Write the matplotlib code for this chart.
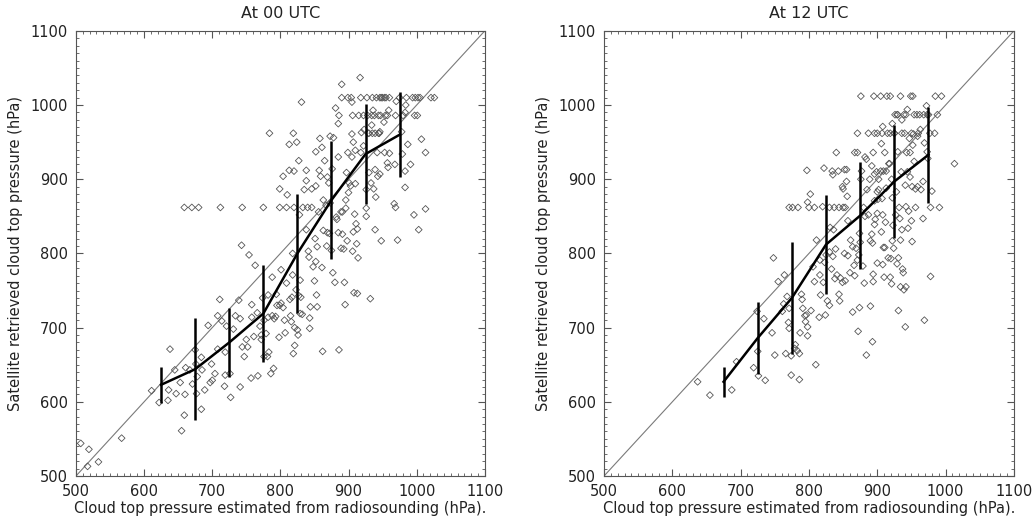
import matplotlib
matplotlib.use("Agg")
import matplotlib.pyplot as plt
from matplotlib.ticker import MultipleLocator
import numpy as np

# ---------------- Data: At 00 UTC ----------------
x00 = [507, 519, 517, 533, 567, 611, 622, 635, 636, 638, 645, 647, 653, 655, 659, 660, 661, 667,
       671, 675, 676, 677, 678, 684, 684, 685, 689, 694, 697, 699, 700, 704, 708, 708, 711, 714,
       718, 719, 719, 721, 726, 727, 731, 734, 739, 741, 741, 743, 744, 747, 750, 752, 754, 757,
       758, 758, 761, 763, 766, 767, 770, 772, 772, 774, 776, 776, 779, 781, 782, 782, 783, 784,
       786, 788, 788, 790, 791, 793, 794, 795, 798, 799, 801, 799, 799, 801, 804, 804, 806, 807,
       809, 809, 810, 813, 813, 814, 815, 816, 817, 818, 818, 819, 819, 820, 820, 821, 821, 823,
       824, 825, 826, 827, 827, 828, 829, 829, 830, 831, 832, 833, 835, 838, 838, 838, 840, 841,
       842, 843, 843, 844, 846, 846, 848, 850, 851, 852, 852, 852, 853, 854, 854, 856, 857, 858,
       859, 861, 861, 862, 863, 863, 865, 867, 868, 869, 869, 871, 872, 873, 873, 875, 876, 877,
       878, 880, 881, 882, 883, 885, 885, 885, 886, 886, 889, 889, 890, 890, 891, 891, 893, 894,
       895, 896, 896, 897, 898, 899, 899, 900, 901, 903, 904, 905, 905, 905, 906, 906, 907, 907,
       908, 909, 910, 910, 911, 912, 913, 913, 914, 915, 917, 918, 918, 919, 922, 922, 923, 926,
       926, 926, 927, 928, 929, 930, 932, 933, 934, 934, 935, 935, 936, 937, 938, 939, 939, 939,
       940, 941, 942, 943, 944, 944, 946, 946, 946, 948, 948, 950, 952, 953, 953, 954, 955, 957,
       958, 959, 960, 967, 968, 969, 969, 970, 972, 975, 978, 979, 980, 983, 983, 983, 984, 985,
       987, 991, 994, 996, 997, 998, 1001, 1002, 1003, 1005, 1007, 1013, 1013, 1021, 1026,
       659, 670, 680, 712, 744, 775, 930, 945, 960, 947, 957]
y00 = [544, 536, 513, 519, 551, 615, 599, 602, 616, 671, 643, 611, 626, 561, 582, 610, 646, 643,
       624, 670, 651, 611, 634, 590, 660, 643, 616, 703, 626, 651, 629, 638, 671, 716, 738, 709,
       621, 636, 667, 702, 638, 606, 698, 716, 737, 620, 712, 811, 674, 661, 684, 674, 798, 632,
       731, 714, 688, 784, 720, 635, 702, 684, 690, 740, 661, 710, 692, 661, 714, 744, 667, 962,
       638, 716, 768, 645, 712, 715, 745, 730, 687, 730, 778, 887, 862, 733, 727, 904, 710, 693,
       760, 862, 879, 912, 947, 738, 716, 708, 741, 800, 771, 665, 962, 862, 911, 700, 676, 751,
       950, 697, 690, 925, 743, 852, 764, 719, 741, 1004, 718, 862, 886, 912, 832, 898, 862, 803,
       795, 713, 699, 728, 862, 887, 782, 763, 820, 789, 937, 891, 744, 728, 809, 856, 912, 955,
       904, 781, 943, 668, 831, 872, 925, 865, 810, 828, 903, 895, 827, 868, 958, 804, 914, 774,
       956, 761, 996, 849, 846, 828, 930, 975, 986, 670, 856, 807, 1028, 1010, 856, 826, 806, 761,
       731, 872, 861, 909, 817, 1010, 936, 882, 895, 891, 1010, 1004, 961, 930, 803, 986, 829, 950,
       747, 853, 939, 894, 840, 813, 746, 833, 794, 986, 1037, 1010, 936, 963, 986, 945, 967, 861,
       886, 850, 1010, 986, 962, 909, 739, 895, 973, 986, 962, 1010, 993, 887, 986, 913, 962, 832,
       876, 1010, 936, 904, 962, 986, 1010, 964, 907, 817, 1010, 1010, 977, 1010, 936, 986, 1010, 922,
       916, 993, 935, 867, 920, 986, 862, 1005, 818, 1010, 964, 934, 986, 889, 911, 990, 1000, 1010,
       947, 920, 1010, 852, 986, 1010, 986, 1010, 832, 1010, 954, 860, 936, 1010, 1010,
       862, 862, 862, 862, 862, 862, 962, 962, 1010, 986, 986]

bins00 = [625, 675, 725, 775, 825, 875, 925, 975]
mean00 = [623, 644, 680, 719, 800, 872, 934, 960]
std00 = [24, 69, 47, 66, 80, 79, 67, 57]

# ---------------- Data: At 12 UTC ----------------
x12 = [637, 655, 687, 694, 719, 725, 726, 724, 734, 736, 746, 748, 750, 755, 761, 763, 764, 766,
       768, 770, 771, 771, 774, 774, 771, 776, 779, 780, 783, 784, 786, 786, 787, 789, 790, 791,
       794, 795, 796, 798, 798, 797, 798, 800, 802, 803, 806, 808, 810, 811, 808, 815, 816, 816,
       817, 820, 821, 822, 823, 824, 825, 827, 830, 830, 830, 831, 833, 834, 835, 835, 836, 837,
       838, 839, 840, 841, 843, 844, 844, 845, 846, 849, 849, 850, 850, 852, 852, 853, 853, 855,
       855, 856, 857, 857, 860, 861, 864, 864, 866, 867, 867, 869, 871, 871, 871, 872, 873, 874,
       874, 875, 876, 876, 877, 879, 880, 881, 882, 882, 884, 884, 885, 887, 887, 889, 890, 890,
       892, 892, 893, 893, 894, 894, 894, 895, 896, 896, 896, 896, 897, 899, 900, 900, 900, 900,
       901, 902, 902, 905, 905, 906, 906, 907, 907, 908, 908, 908, 909, 909, 910, 911, 911, 912,
       913, 913, 914, 915, 916, 917, 918, 919, 919, 919, 920, 921, 921, 922, 922, 922, 923, 924,
       925, 926, 927, 928, 929, 929, 930, 931, 931, 932, 933, 934, 934, 934, 935, 936, 936, 936,
       937, 938, 939, 939, 940, 941, 941, 942, 942, 943, 944, 944, 945, 946, 947, 948, 948, 949,
       950, 951, 951, 952, 952, 953, 954, 954, 956, 956, 958, 959, 959, 962, 963, 964, 967, 967,
       968, 969, 969, 972, 973, 973, 974, 977, 978, 978, 980, 984, 985, 988, 991, 994, 1013,
       942, 950, 960, 975, 925, 930]
y12 = [627, 609, 616, 654, 646, 668, 635, 722, 712, 629, 693, 794, 663, 762, 722, 732, 771, 665,
       742, 707, 699, 726, 662, 636, 862, 862, 672, 677, 669, 862, 630, 665, 693, 745, 738, 726,
       716, 708, 717, 701, 689, 912, 869, 862, 880, 723, 782, 862, 650, 818, 762, 714, 771, 791,
       744, 863, 761, 915, 788, 717, 798, 736, 802, 862, 730, 835, 779, 911, 906, 796, 832, 862,
       766, 806, 936, 771, 911, 745, 862, 736, 767, 890, 761, 862, 887, 913, 800, 862, 763, 897,
       913, 877, 844, 797, 774, 818, 809, 721, 784, 936, 770, 807, 962, 936, 791, 695, 798, 727,
       827, 815, 1012, 900, 911, 783, 862, 760, 930, 850, 663, 927, 886, 852, 962, 900, 817, 729,
       918, 826, 681, 814, 772, 762, 936, 1012, 839, 907, 962, 871, 846, 910, 854, 787, 962, 883,
       873, 900, 886, 1012, 911, 948, 829, 874, 962, 971, 852, 785, 808, 911, 768, 808, 936, 842,
       911, 888, 1012, 962, 794, 921, 921, 1012, 768, 962, 793, 900, 759, 875, 975, 817, 838, 807,
       962, 987, 852, 883, 987, 786, 937, 723, 794, 862, 847, 1012, 755, 818, 910, 962, 980, 832,
       779, 774, 751, 987, 962, 701, 892, 755, 863, 936, 910, 994, 834, 857, 955, 936, 903, 1012,
       844, 816, 890, 1012, 946, 961, 987, 924, 862, 887, 987, 958, 890, 987, 967, 886, 847, 897,
       987, 949, 710, 999, 937, 987, 928, 962, 862, 769, 884, 962, 1012, 987, 862, 1012, 921,
       987, 962, 962, 987, 962, 987]

bins12 = [675, 725, 775, 825, 875, 925, 975]
mean12 = [627, 686, 740, 812, 851, 897, 933]
std12 = [20, 49, 76, 67, 72, 76, 65]

titles = ["At 00 UTC", "At 12 UTC"]
xlabel = "Cloud top pressure estimated from radiosounding (hPa)."
ylabel = "Satellite retrieved cloud top pressure (hPa)"

# ---------------- Plot ----------------
plt.rcParams['font.family'] = ['DejaVu Sans']
plt.rcParams['text.color'] = '#222222'
plt.rcParams['xtick.labelcolor'] = '#222222'
plt.rcParams['ytick.labelcolor'] = '#222222'
plt.rcParams['axes.labelcolor'] = '#222222'
fig = plt.figure(figsize=(10.35, 5.17), dpi=100)
positions = [[0.0734, 0.0793, 0.395, 0.861], [0.5836, 0.0793, 0.396, 0.861]]
datasets = [(x00, y00, bins00, mean00, std00), (x12, y12, bins12, mean12, std12)]

for pos, (xs, ys, bx, bm, bs), title in zip(positions, datasets, titles):
    ax = fig.add_axes(pos)
    ax.plot([500, 1100], [500, 1100], color='#7a7a7a', lw=0.8, zorder=1)
    ax.scatter(xs, ys, marker='D', s=12, facecolors='none', edgecolors='#555555',
               linewidths=0.6, zorder=2)
    ax.plot(bx, bm, color='black', lw=1.8, zorder=3)
    ax.errorbar(bx, bm, yerr=bs, fmt='none', ecolor='black', elinewidth=1.8,
                capsize=0, zorder=3)
    ax.set_xlim(500, 1100)
    ax.set_ylim(500, 1100)
    ax.xaxis.set_major_locator(MultipleLocator(100))
    ax.yaxis.set_major_locator(MultipleLocator(100))
    ax.xaxis.set_minor_locator(MultipleLocator(10))
    ax.yaxis.set_minor_locator(MultipleLocator(10))
    ax.tick_params(which='both', direction='in', top=True, right=True,
                   color='#555555', labelsize=10.5)
    ax.tick_params(which='major', length=5, width=0.8, pad=6)
    ax.tick_params(which='minor', length=2.5, width=0.6)
    for sp in ax.spines.values():
        sp.set_color('#555555')
        sp.set_linewidth(0.8)
    ax.set_title(title, fontsize=11.5, pad=9)
    ax.set_xlabel(xlabel, fontsize=10.5, labelpad=1)
    ax.set_ylabel(ylabel, fontsize=10.5, labelpad=5)

fig.savefig("out.png", dpi=100)
